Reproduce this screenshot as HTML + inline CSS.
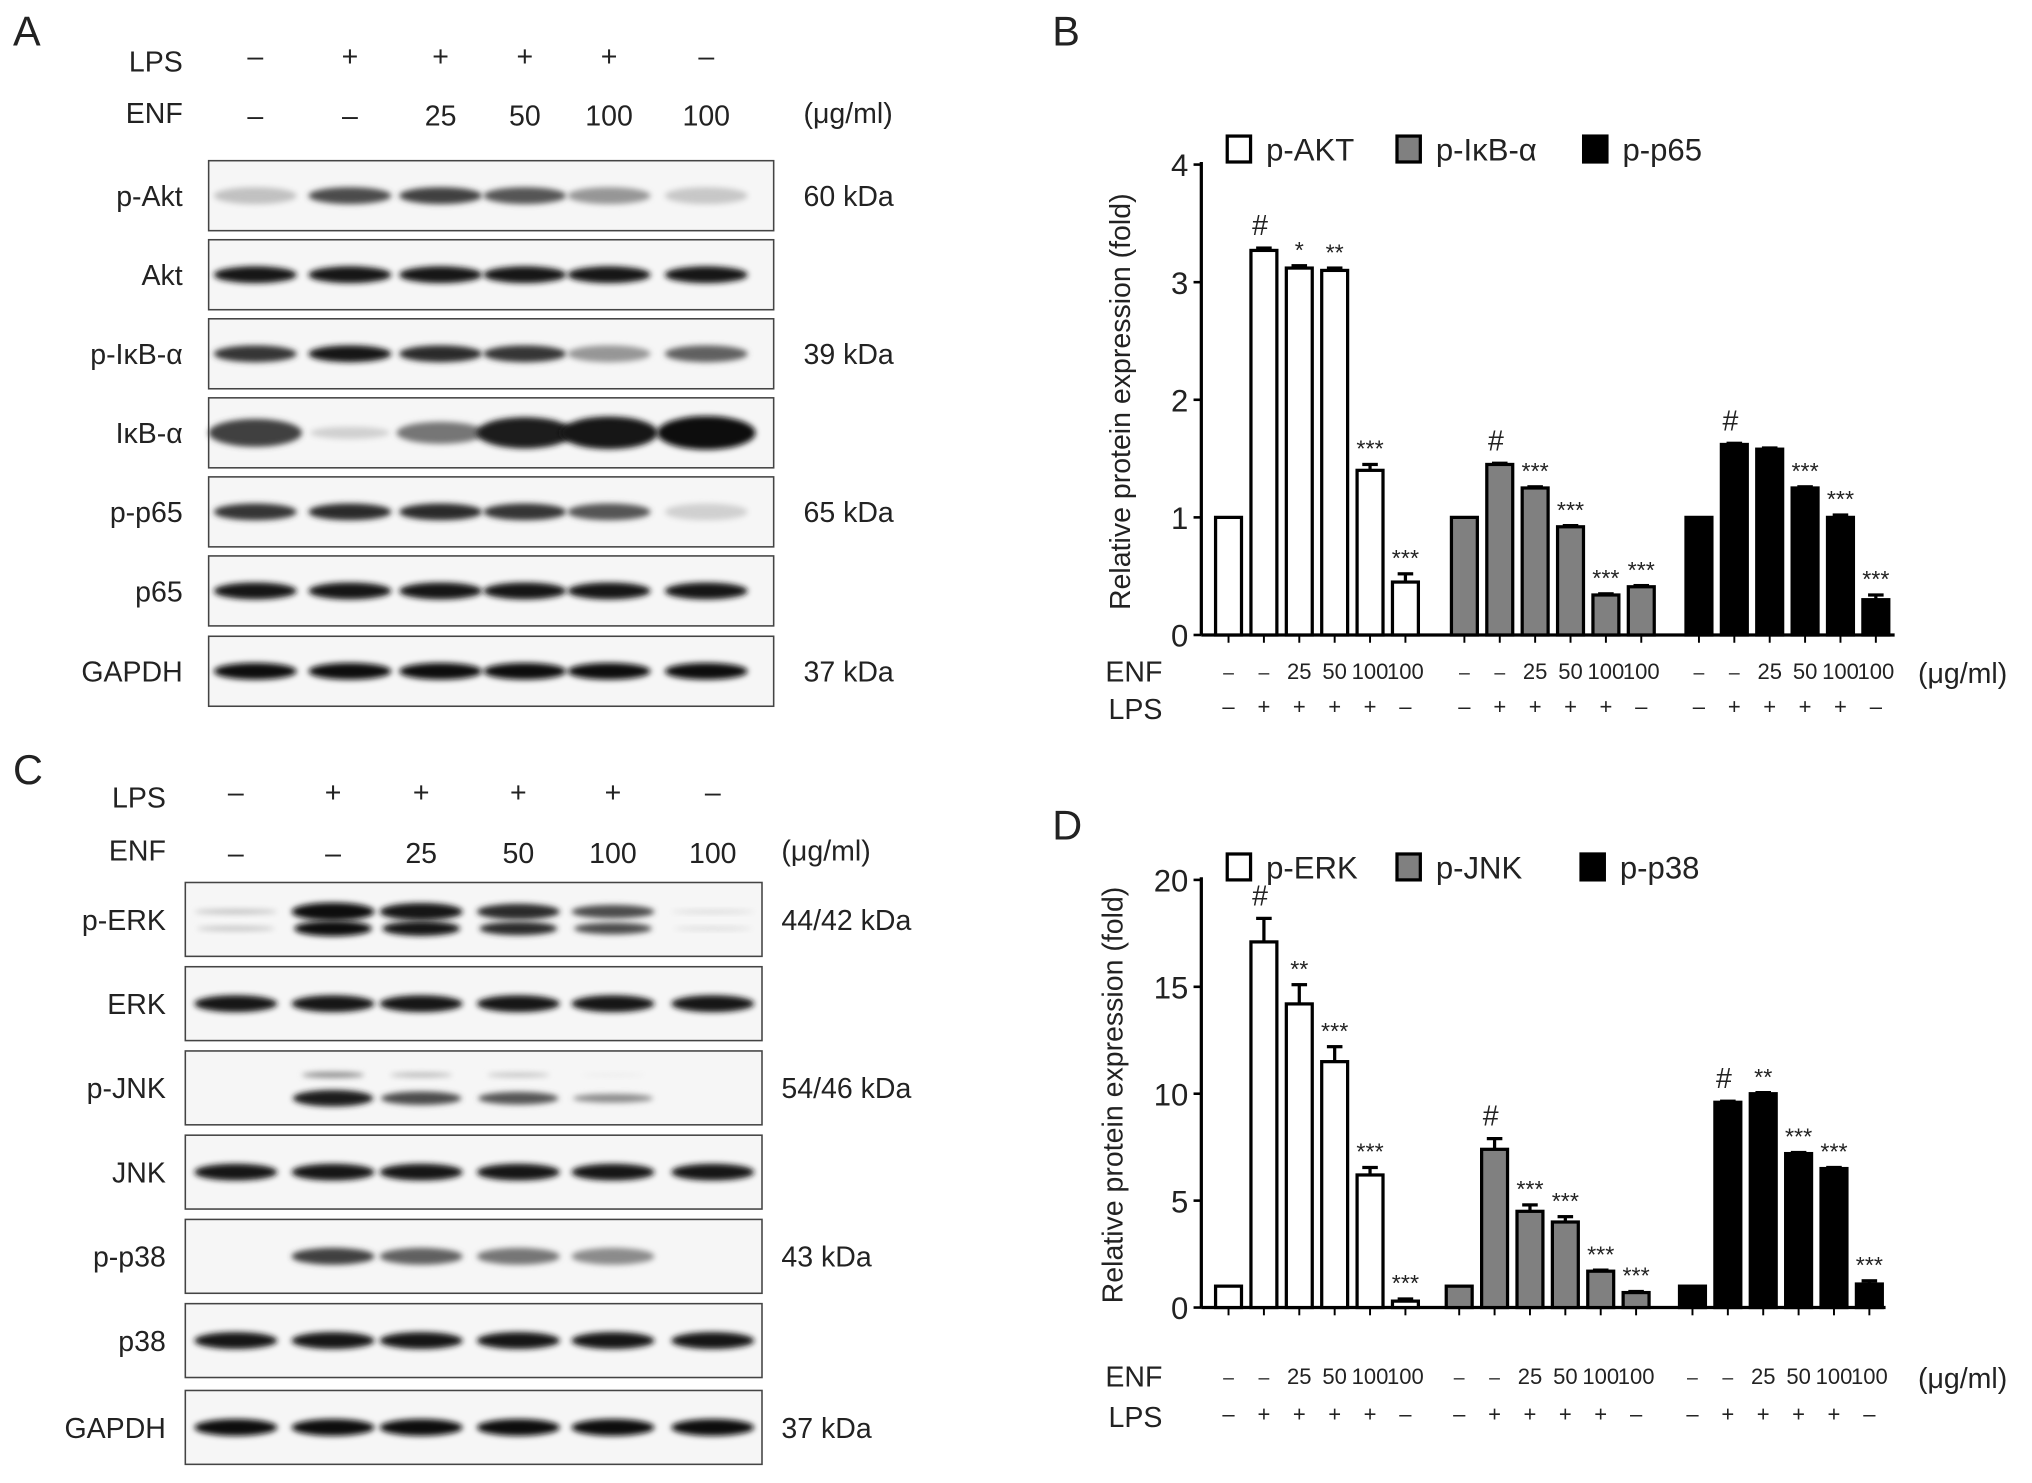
<!DOCTYPE html>
<html><head><meta charset="utf-8"><style>
html,body{margin:0;padding:0;background:#fff}
svg{display:block}
text{font-family:"Liberation Sans",sans-serif;fill:#222}
</style></head><body>
<svg id="fig" width="2032" height="1483" viewBox="0 0 1568 1144.4" preserveAspectRatio="none" xmlns="http://www.w3.org/2000/svg">
<defs><filter id="blur" x="-50%" y="-100%" width="200%" height="300%"><feGaussianBlur stdDeviation="2.2"/></filter></defs>
<g id="root"></g>
</svg>
<script>
// ---- Chart B data ----
const bCategories = ['p-AKT','p-IκB-α','p-p65'];
const bAkt = [1, 3.27, 3.12, 3.10, 1.40, 0.45];
const bIkb = [1, 1.45, 1.25, 0.92, 0.34, 0.41];
const bP65 = [1, 1.62, 1.58, 1.25, 1.00, 0.30];
const bErrAkt = [0, 0.02, 0.02, 0.02, 0.05, 0.07];
const bErrIkb = [0, 0.01, 0.01, 0.01, 0.01, 0.01];
const bErrP65 = [0, 0.01, 0.01, 0.01, 0.02, 0.04];
const bSig = [['','#','*','**','***','***'],['','#','***','***','***','***'],['','#','','***','***','***']];
const bTicks = [0,1,2,3,4];
// ---- Chart D data ----
const dCategories = ['p-ERK','p-JNK','p-p38'];
const dErk = [1, 17.1, 14.2, 11.5, 6.2, 0.3];
const dJnk = [1, 7.4, 4.5, 4.0, 1.7, 0.7];
const dP38 = [1, 9.6, 10.0, 7.2, 6.5, 1.1];
const dErrErk = [0, 1.1, 0.9, 0.7, 0.35, 0.1];
const dErrJnk = [0, 0.5, 0.3, 0.25, 0.05, 0.05];
const dErrP38 = [0, 0.05, 0.05, 0.05, 0.05, 0.15];
const dSig = [['','#','**','***','***','***'],['','#','***','***','***','***'],['','#','**','***','***','***']];
const dTicks = [0,5,10,15,20];
const enfLabels = ['–','–','25','50','100','100'];
const lpsLabels = ['–','+','+','+','+','–'];
// ---- blot intensities ----
const blotA = [['p-Akt',[.15,.7,.75,.65,.35,.12],'60 kDa'],['Akt',[.95,.95,.95,.95,.95,.95],''],['p-IκB-α',[.8,.95,.85,.8,.35,.6],'39 kDa'],['IκB-α',[.75,.08,.5,.9,.95,1],''],['p-p65',[.8,.85,.85,.8,.65,.08],'65 kDa'],['p65',[.95,.95,.95,.95,.95,.95],''],['GAPDH',[.97,.97,.97,.97,.97,.97],'37 kDa']];
const blotC = [['p-ERK',[.15,1,.95,.85,.7,.05],'44/42 kDa'],['ERK',[.95,.95,.95,.95,.95,.95],''],['p-JNK',[0,.9,.7,.65,.4,0],'54/46 kDa'],['JNK',[.95,.95,.95,.95,.95,.95],''],['p-p38',[0,.75,.6,.5,.4,0],'43 kDa'],['p38',[.95,.95,.95,.95,.95,.95],''],['GAPDH',[.97,.97,.97,.97,.97,.97],'37 kDa']];

const NS='http://www.w3.org/2000/svg';
const root=document.getElementById('root');
function el(tag,attrs,parent,txt){const e=document.createElementNS(NS,tag);for(const k in attrs)e.setAttribute(k,attrs[k]);if(txt!==undefined)e.textContent=txt;(parent||root).appendChild(e);return e;}
function txt(x,y,s,size,anchor,parent,name){const t=el('text',{x:x,y:y,'font-size':size,'text-anchor':anchor||'start'},parent,s);

return t;}

[['A',10,35],['B',812,35],['C',10,605],['D',812,648]].forEach(p=>{txt(p[1],p[2],p[0],32,'start',root,'panel-letter-'+p[0].toLowerCase());});

function blot(data,x0,x1,rowTops,rowH,lanes,labelX,kdX,hdr){
  const g=el('g',{});
  
  
  txt(hdr.labX,hdr.lpsY,'LPS',22,'end',g,'lps-header');
  txt(hdr.labX,hdr.enfY,'ENF',22,'end',g,'enf-header');
  lanes.forEach((lx,i)=>{txt(lx,hdr.lpsY-4,lpsLabels[i],22,'middle',g,'lps-sign');txt(lx,hdr.enfY+2,enfLabels[i],22,'middle',g,'enf-dose');});
  txt(hdr.unitX,hdr.enfY,'(μg/ml)',22,'start',g,'unit-label');
  data.forEach((row,r)=>{
    const y=rowTops[r];
    const rg=el('g',{},g);
    
    
    el('rect',{x:x0,y:y,width:x1-x0,height:rowH,fill:'#f6f6f6',stroke:'#444','stroke-width':1.2},rg);
    const cy=y+rowH/2;
    row[1].forEach((v,i)=>{
      if(v<=0.01)return;
      const c=Math.round(10+(1-v)*215);
      const w=row[0].startsWith('IκB')?30+v*8:32;
      const col=`rgb(${c},${c},${c})`;
      if(row[0]==='p-ERK'){
        el('ellipse',{cx:lanes[i],cy:cy-6,rx:32,ry:6*v+1,fill:col,filter:'url(#blur)'},rg);
        el('ellipse',{cx:lanes[i],cy:cy+7,rx:30,ry:5*v+1,fill:col,filter:'url(#blur)'},rg);
      } else if(row[0]==='p-JNK'){
        const c2=Math.min(235,c+110);
        el('ellipse',{cx:lanes[i],cy:cy-10,rx:24,ry:2*v+.5,fill:`rgb(${c2},${c2},${c2})`,filter:'url(#blur)'},rg);
        el('ellipse',{cx:lanes[i],cy:cy+8,rx:31,ry:6*v+1,fill:col,filter:'url(#blur)'},rg);
      } else {
        el('ellipse',{cx:lanes[i],cy:cy,rx:w,ry:row[0].startsWith('IκB')?4+9*v:6.5,fill:col,filter:'url(#blur)'},rg);
      }
    });
    txt(labelX,cy+8,row[0],22,'end',rg,'protein-label');
    if(row[2])txt(kdX,cy+8,row[2],22,'start',rg,'kda-label');
  });
}
blot(blotA,161,597,[124,185,246,307,368,429,491],54,[197,270,340,405,470,545],141,620,{labX:141,lpsY:55,enfY:95,unitX:620});
blot(blotC,143,588,[681,746,811,876,941,1006,1073],57,[182,257,325,400,473,550],128,603,{labX:128,lpsY:623,enfY:664,unitX:603});

function chart(opts){
  const g=el('g',{});
  
  
  const y=v=>opts.y0-(v-opts.ymin)/(opts.ymax-opts.ymin)*(opts.y0-opts.ytop);
  const x=(gi,bi)=>opts.gx[gi]+bi*opts.step;
  const bw=20;
  const fills=['#fff','#808080','#000'];
  const ya=el('line',{x1:opts.ax,y1:opts.ytop-2,x2:opts.ax,y2:opts.y0,stroke:'#000','stroke-width':2.5},g);
  
  
  const xa=el('line',{x1:opts.ax,y1:opts.y0,x2:opts.xend,y2:opts.y0,stroke:'#000','stroke-width':2.5},g);
  
  
  opts.ticks.forEach(t=>{el('line',{x1:opts.ax-6,y1:y(t),x2:opts.ax,y2:y(t),stroke:'#000','stroke-width':2},g);txt(opts.ax-10,y(t)+9,String(t),24,'end',g,'y-tick-label');});
  const tt=txt(0,0,'Relative protein expression (fold)',22,'middle',g,'y-axis-title');
  tt.setAttribute('transform',`translate(${opts.titleX},${opts.titleY}) rotate(-90)`);
  opts.series.forEach((vals,gi)=>{
    vals.forEach((v,bi)=>{
      const cx=x(gi,bi);
      const b=el('rect',{x:cx-bw/2,y:y(v),width:bw,height:opts.y0-y(v),fill:fills[gi],stroke:'#000','stroke-width':2.5},g);
      
      
      const e=opts.errs[gi][bi];
      if(e>0){el('line',{x1:cx,y1:y(v),x2:cx,y2:y(v+e),stroke:'#000','stroke-width':2.5},g);el('line',{x1:cx-6,y1:y(v+e),x2:cx+6,y2:y(v+e),stroke:'#000','stroke-width':2.5},g);}
      const s=opts.sig[gi][bi];
      if(s)txt(cx+(s==='#'?-3:0),y(v+e)-(s==='#'?10:6),s,s==='#'?22:18,'middle',g,'significance-mark');
      el('line',{x1:cx,y1:opts.y0,x2:cx,y2:opts.y0+6,stroke:'#000','stroke-width':1.5},g);
      txt(cx,opts.enfY,enfLabels[bi],enfLabels[bi].length>1?17:15,'middle',g,'enf-dose');
      txt(cx,opts.lpsY,lpsLabels[bi],17,'middle',g,'lps-sign');
    });
  });
  txt(opts.ax-30,opts.enfY+2,'ENF',22,'end',g,'enf-row-label');
  txt(opts.ax-30,opts.lpsY+4,'LPS',22,'end',g,'lps-row-label');
  txt(1480,opts.enfY+3,'(μg/ml)',22,'start',g,'unit-label');
  opts.cats.forEach((c,i)=>{
    const lg=el('g',{},g);
    
    
    el('rect',{x:opts.legX[i],y:opts.legY-19,width:18,height:20,fill:fills[i],stroke:'#000','stroke-width':2.5},lg);
    txt(opts.legX[i]+30,opts.legY,c,24,'start',lg,'legend-label');
  });
}
chart({name:'chart-b',cats:bCategories,series:[bAkt,bIkb,bP65],errs:[bErrAkt,bErrIkb,bErrP65],sig:bSig,ticks:bTicks,ymin:0,ymax:4,y0:490,ytop:127,ax:927,xend:1462,gx:[948,1130,1311],step:27.3,enfY:524,lpsY:551,titleX:872,titleY:310,legX:[947,1078,1222],legY:124});
chart({name:'chart-d',cats:dCategories,series:[dErk,dJnk,dP38],errs:[dErrErk,dErrJnk,dErrP38],sig:dSig,ticks:dTicks,ymin:0,ymax:20,y0:1009,ytop:679,ax:927,xend:1455,gx:[948,1126,1306],step:27.3,enfY:1068,lpsY:1097,titleX:866,titleY:845,legX:[947,1078,1220],legY:678});
</script>
</body></html>
